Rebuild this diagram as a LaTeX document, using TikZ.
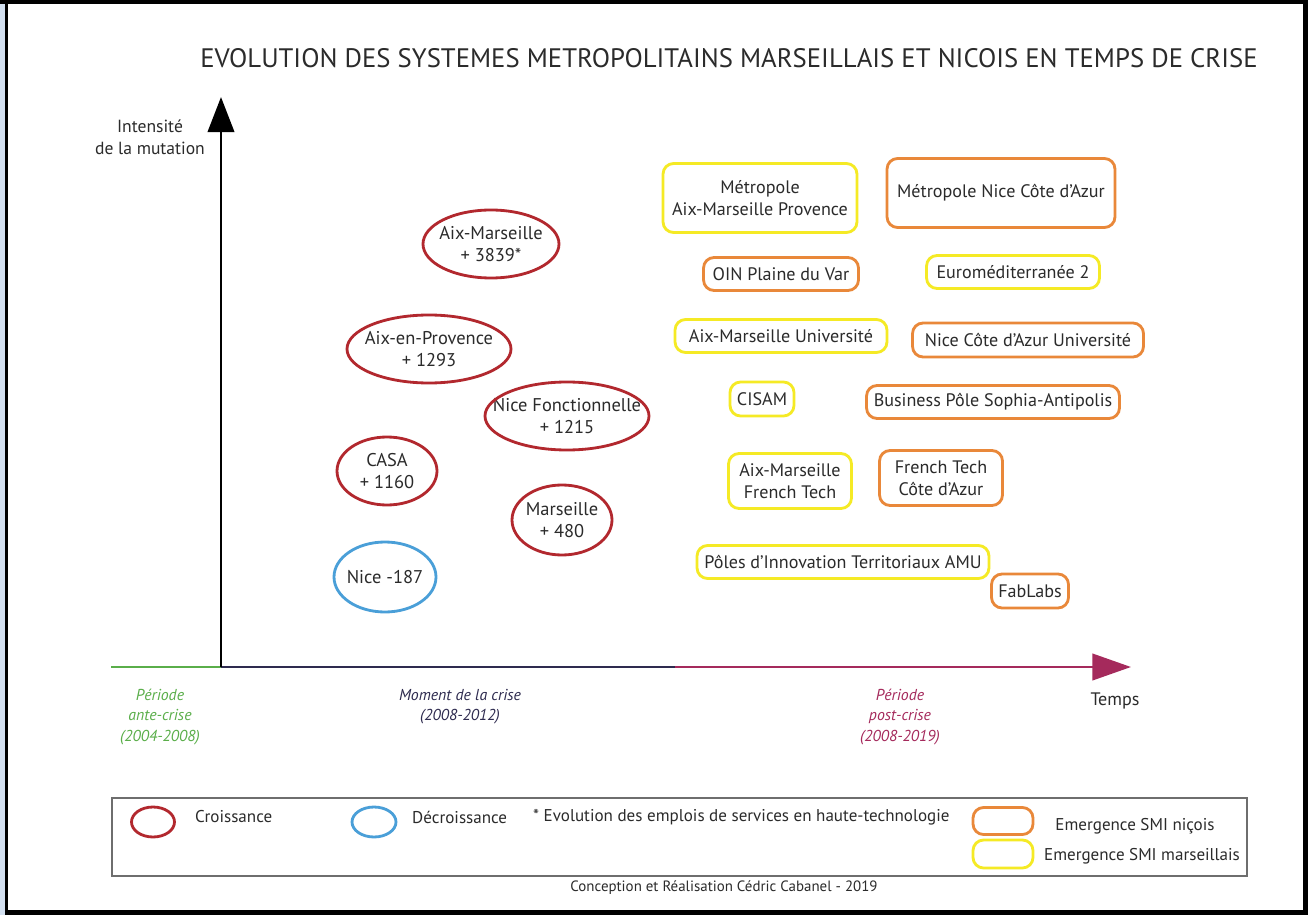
\documentclass[tikz,border=0pt]{standalone}
\usepackage{fontspec}
\setmainfont{PT Sans}
\usepackage{tikz}
\usetikzlibrary{arrows.meta}
\definecolor{ink}{HTML}{2B2B2B}
\definecolor{growth}{HTML}{B2282E}
\definecolor{decline}{HTML}{4A9FD8}
\definecolor{nicois}{HTML}{E9883A}
\definecolor{marseillais}{HTML}{F5EA25}
\definecolor{antecrise}{HTML}{5AAE4A}
\definecolor{crise}{HTML}{2E2B4F}
\definecolor{postcrise}{HTML}{A52A5C}
\definecolor{strip}{HTML}{D3E0F0}
\definecolor{legendgray}{HTML}{6E6E6E}

\begin{document}
\begin{tikzpicture}[x=0.02cm, y=-0.02cm,
  smin/.style={rectangle, draw=nicois, line width=1.6pt, rounded corners=6pt, align=center, inner sep=2pt, text=ink, font=\fontsize{10.3}{12.5}\selectfont},
  smim/.style={smin, draw=marseillais},
  ville/.style={align=center, text=ink, font=\fontsize{10.5}{13}\selectfont},
  croit/.style={draw=growth, line width=1.6pt},
  decroit/.style={draw=decline, line width=1.6pt},
  period/.style={align=center, font=\itshape\fontsize{9}{11.5}\selectfont},
  legtext/.style={anchor=west, text=ink, font=\fontsize{9.7}{11}\selectfont},
  axis/.style={line width=1.7pt}
]
  % frame
  \fill[black] (0,0) rectangle (1308,915);
  \fill[strip] (0,4) rectangle (5,915);
  \fill[white] (8,4) rectangle (1303,910);
  \useasboundingbox (0,0) rectangle (1308,915);

  \node[text=ink, font=\fontsize{15.2}{17}\selectfont] (title) at (729,58) {EVOLUTION DES SYSTEMES METROPOLITAINS MARSEILLAIS ET NICOIS EN TEMPS DE CRISE};

  % axes
  \coordinate (origin) at (221,667);
  \coordinate (ytip) at (221,97);
  \coordinate (xstart) at (111,667);
  \coordinate (xmid) at (675,667);
  \coordinate (xtip) at (1131,667);
  \draw[axis, antecrise] (xstart) -- (origin);
  \draw[axis, crise] (origin) -- (xmid);
  \draw[axis, postcrise, -{Triangle[length=22pt, width=15pt]}] (xmid) -- (xtip);
  \draw[axis, black, -{Triangle[length=20pt, width=15pt]}] (origin) -- (ytip);

  \node[align=center, text=ink, font=\fontsize{10}{12.5}\selectfont] (ylabel) at (150,137) {Intensité\\de la mutation};
  \node[text=ink, font=\fontsize{10.3}{12}\selectfont] (xlabel) at (1115,701) {Temps};
  \node[period, text=antecrise] (ante) at (160,717) {Période\\ante-crise\\(2004-2008)};
  \node[period, text=crise] (moment) at (460,707) {Moment de la crise\\(2008-2012)};
  \node[period, text=postcrise] (post) at (900,717) {Période\\post-crise\\(2008-2019)};

  % villes
  \node[ville] (aixmars) at (491,244) {Aix-Marseille\\+ 3839*};
  \draw[croit] (aixmars.center) ellipse [x radius=68, y radius=34];
  \node[ville] (aixprov) at (429,349) {Aix-en-Provence\\+ 1293};
  \draw[croit] (aixprov.center) ellipse [x radius=82, y radius=34];
  \node[ville] (nicefonc) at (567,416) {Nice Fonctionnelle\\+ 1215};
  \draw[croit] (nicefonc.center) ellipse [x radius=82, y radius=34];
  \node[ville] (casa) at (387,471) {CASA\\+ 1160};
  \draw[croit] (casa.center) ellipse [x radius=50, y radius=34];
  \node[ville] (marseille) at (562,520) {Marseille\\+ 480};
  \draw[croit] (marseille.center) ellipse [x radius=50, y radius=35];
  \node[ville] (nice) at (385,577) {Nice -187};
  \draw[decroit] (nice.center) ellipse [x radius=51, y radius=35];

  % SMI
  \node[smim, minimum width=3.88cm, minimum height=1.38cm] (metroamp) at (760,198) {Métropole\\Aix-Marseille Provence};
  \node[smin, minimum width=4.56cm, minimum height=1.38cm] (metronca) at (1001,193) {Métropole Nice Côte d’Azur};
  \node[smin, minimum width=3.10cm, minimum height=0.66cm] (oin) at (781,274) {OIN Plaine du Var};
  \node[smim, minimum width=3.46cm, minimum height=0.66cm] (euromed) at (1013,272) {Euroméditerranée 2};
  \node[smim, minimum width=4.24cm, minimum height=0.66cm] (amu) at (781,336) {Aix-Marseille Université};
  \node[smin, minimum width=4.62cm, minimum height=0.68cm] (uca) at (1028,340) {Nice Côte d’Azur Université};
  \node[smim, minimum width=1.28cm, minimum height=0.68cm] (cisam) at (762,399) {CISAM};
  \node[smin, minimum width=5.06cm, minimum height=0.66cm] (sophia) at (993,402) {Business Pôle Sophia-Antipolis};
  \node[smim, minimum width=2.46cm, minimum height=1.10cm] (amft) at (790,481) {Aix-Marseille\\French Tech};
  \node[smin, minimum width=2.46cm, minimum height=1.10cm] (ftca) at (941,478) {French Tech\\Côte d’Azur};
  \node[smim, minimum width=5.84cm, minimum height=0.66cm] (pit) at (843,562) {Pôles d’Innovation Territoriaux AMU};
  \node[smin, minimum width=1.54cm, minimum height=0.68cm] (fablabs) at (1030,591) {FabLabs};

  % legende
  \node[draw=legendgray, line width=0.9pt, minimum width=22.7cm, minimum height=1.56cm] (legend) at (679.5,837) {};
  \coordinate (legcroit) at (153,822);
  \draw[croit] (legcroit) ellipse [x radius=21.5, y radius=15];
  \node[legtext] (croissance) at (189,817) {Croissance};
  \coordinate (legdecroit) at (374,822);
  \draw[decroit] (legdecroit) ellipse [x radius=22, y radius=15];
  \node[legtext] (decroissance) at (406,817) {Décroissance};
  \node[legtext] (note) at (527,817) {* Evolution des emplois de services en haute-technologie};
  \node[smin, minimum width=1.2cm, minimum height=0.54cm] (legnicois) at (1003,821) {};
  \node[smim, minimum width=1.2cm, minimum height=0.56cm] (legmars) at (1003,854) {};
  \node[text=ink, font=\fontsize{9.7}{11}\selectfont] (emnicois) at (1135,826) {Emergence SMI niçois};
  \node[text=ink, font=\fontsize{9.7}{11}\selectfont] (emmars) at (1142,856) {Emergence SMI marseillais};

  \node[text=ink, font=\fontsize{8.5}{10}\selectfont] (credit) at (724,888) {Conception et Réalisation Cédric Cabanel - 2019};
\end{tikzpicture}
\end{document}
